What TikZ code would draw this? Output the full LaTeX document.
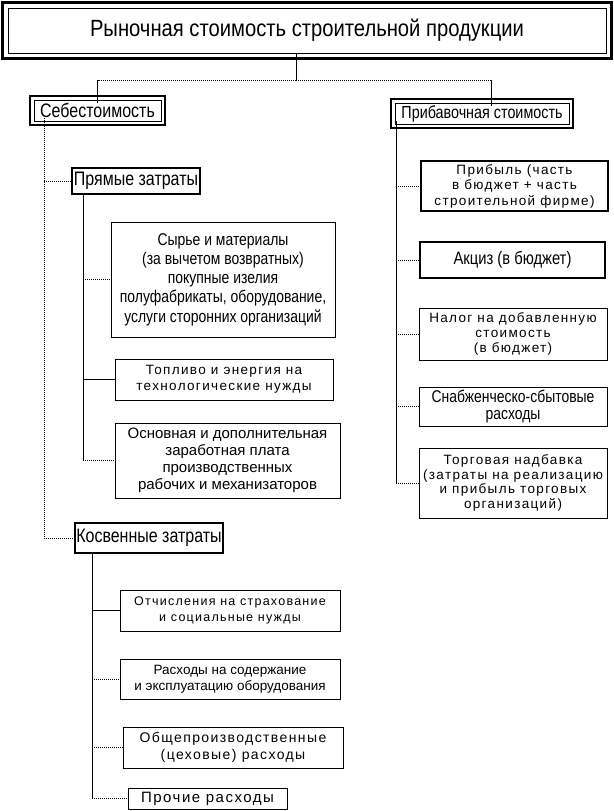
\documentclass[tikz,border=0pt]{standalone}
\usepackage{fontspec}
\setmainfont{Liberation Sans}
\newfontfamily\wsp[LetterSpace=10]{Liberation Sans}
\newfontfamily\nar[FakeStretch=0.82]{Liberation Sans}
\newfontfamily\nart[FakeStretch=0.86]{Liberation Sans}
\begin{document}
\begin{tikzpicture}[x=1pt,y=-1pt,
  box/.style={draw, line width=0.9pt, align=center, inner sep=0pt},
  tbox/.style={box, line width=1.6pt},
  sl/.style={line width=0.8pt},
  dl/.style={line width=1pt, densely dotted},
]
\useasboundingbox (0,0) rectangle (613,811);
% title
\node[box, line width=1pt, minimum width=598pt, minimum height=45pt, font=\nart\fontsize{23.5}{27}\selectfont] (title) at (307,30.5) {Рыночная стоимость строительной продукции};
\draw[line width=2.5pt] ([shift={(-5pt,5pt)}]title.north west) rectangle ([shift={(5pt,-5pt)}]title.south east);
% level 1
\node[box, minimum width=127pt, minimum height=21pt, font=\nar\fontsize{19.5}{22}\selectfont] (seb) at (97.5,110.5) {Себестоимость};
\draw[line width=2pt] ([shift={(-3.5pt,3.5pt)}]seb.north west) rectangle ([shift={(3.5pt,-3.5pt)}]seb.south east);
\node[box, minimum width=174pt, minimum height=21pt, font=\nar\fontsize{17.5}{20}\selectfont] (pb) at (482,113.5) {Прибавочная стоимость};
\draw[line width=2pt] ([shift={(-3.5pt,3.5pt)}]pb.north west) rectangle ([shift={(3.5pt,-3.5pt)}]pb.south east);
% left branch
\node[box, line width=1.2pt, minimum width=128pt, minimum height=26pt, font=\nar\fontsize{19.5}{22}\selectfont] (pr) at (136,181) {Прямые затраты};
\node[box, minimum width=224pt, minimum height=115pt, font=\nar\fontsize{17}{19.2}\selectfont] (syr) at (223,279.5) {Сырье и материалы\\(за вычетом возвратных)\\покупные изелия\\полуфабрикаты, оборудование,\\услуги сторонних организаций};
\node[box, minimum width=218pt, minimum height=41pt, font=\wsp\fontsize{13.5}{16}\selectfont] (top) at (224,379.5) {Топливо и энергия на\\технологические нужды};
\node[box, minimum width=225pt, minimum height=75pt, font=\fontsize{15}{17}\selectfont] (osn) at (227.5,460.5) {Основная и дополнительная\\заработная плата\\производственных\\рабочих и механизаторов};
\node[tbox, minimum width=148pt, minimum height=30pt, font=\nar\fontsize{19.5}{22}\selectfont] (kos) at (149,538) {Косвенные затраты};
\node[box, minimum width=220pt, minimum height=41pt, font=\wsp\fontsize{12.5}{15.5}\selectfont] (otch) at (230,610.5) {Отчисления на страхование\\и социальные нужды};
\node[box, minimum width=220pt, minimum height=40pt, font=\fontsize{13.5}{16}\selectfont] (rash) at (230,679) {Расходы на содержание\\и эксплуатацию оборудования};
\node[box, minimum width=220pt, minimum height=41pt, font=\wsp\fontsize{14}{17}\selectfont] (obsh) at (233,747.5) {Общепроизводственные\\(цеховые) расходы};
\node[box, minimum width=159pt, minimum height=21pt, font=\wsp\fontsize{15}{18}\selectfont] (proch) at (207.5,798.5) {Прочие расходы};
% right branch
\node[tbox, minimum width=187pt, minimum height=50pt, font=\wsp\fontsize{13.5}{15.5}\selectfont] (prib) at (514.5,186) {Прибыль (часть\\в бюджет + часть\\строительной фирме)};
\node[tbox, minimum width=185pt, minimum height=36pt, font=\nar\fontsize{18}{20}\selectfont] (akc) at (512.5,260) {Акциз (в бюджет)};
\node[box, minimum width=188pt, minimum height=52pt, font=\wsp\fontsize{13.5}{15}\selectfont] (nal) at (513,334) {Налог на добавленную\\стоимость\\(в бюджет)};
\node[box, minimum width=188pt, minimum height=39pt, font=\nar\fontsize{17}{17.5}\selectfont] (snab) at (513,406.5) {Снабженческо-сбытовые\\расходы};
\node[box, minimum width=188pt, minimum height=70pt, font=\wsp\fontsize{13.5}{14.5}\selectfont] (torg) at (513,483) {Торговая надбавка\\(затраты на реализацию\\и прибыль торговых\\организаций)};
% spine coordinates
\coordinate (jt) at (296,80);
\coordinate (xL) at (44,0);
\coordinate (xM) at (83,0);
\coordinate (xB) at (92,0);
\coordinate (xR) at (396,0);
\coordinate (xP) at (491,0);
% connectors from title
\draw[sl] (title.south -| jt) -- (jt);
\draw[dl] (jt) -- (jt -| xP);
\draw[dl] (jt) -- (jt -| seb.north);
\draw[sl] (jt -| seb.north) -- ([yshift=-3.5pt]seb.north);
\draw[sl] (jt -| xP) -- ([yshift=-3.5pt]pb.north -| xP);
% left spine
\draw[dl] ([yshift=3.5pt]seb.south -| xL) |- (kos.west);
\draw[dl] (xL |- pr.west) -- (pr.west);
% middle spine
\draw[sl] (pr.south -| xM) |- (top.west);
\draw[sl] (top.west -| xM) -- (osn.west -| xM);
\draw[dl] (xM |- osn.west) -- (osn.west);
\draw[dl] (xM |- syr.west) -- (syr.west);
% bottom spine
\draw[sl] (kos.south -| xB) |- (otch.west);
\draw[sl] (otch.west -| xB) -- (proch.west -| xB);
\draw[dl] (xB |- rash.west) -- (rash.west);
\draw[dl] (xB |- obsh.west) -- (obsh.west);
\draw[dl] (xB |- proch.west) -- (proch.west);
% right spine
\draw[sl] ([yshift=3.5pt]pb.south -| xR) -- (torg.west -| xR);
\draw[dl] (xR |- prib.west) -- (prib.west);
\draw[dl] (xR |- akc.west) -- (akc.west);
\draw[dl] (xR |- nal.west) -- (nal.west);
\draw[dl] (xR |- snab.west) -- (snab.west);
\draw[dl] (xR |- torg.west) -- (torg.west);
\end{tikzpicture}
\end{document}
